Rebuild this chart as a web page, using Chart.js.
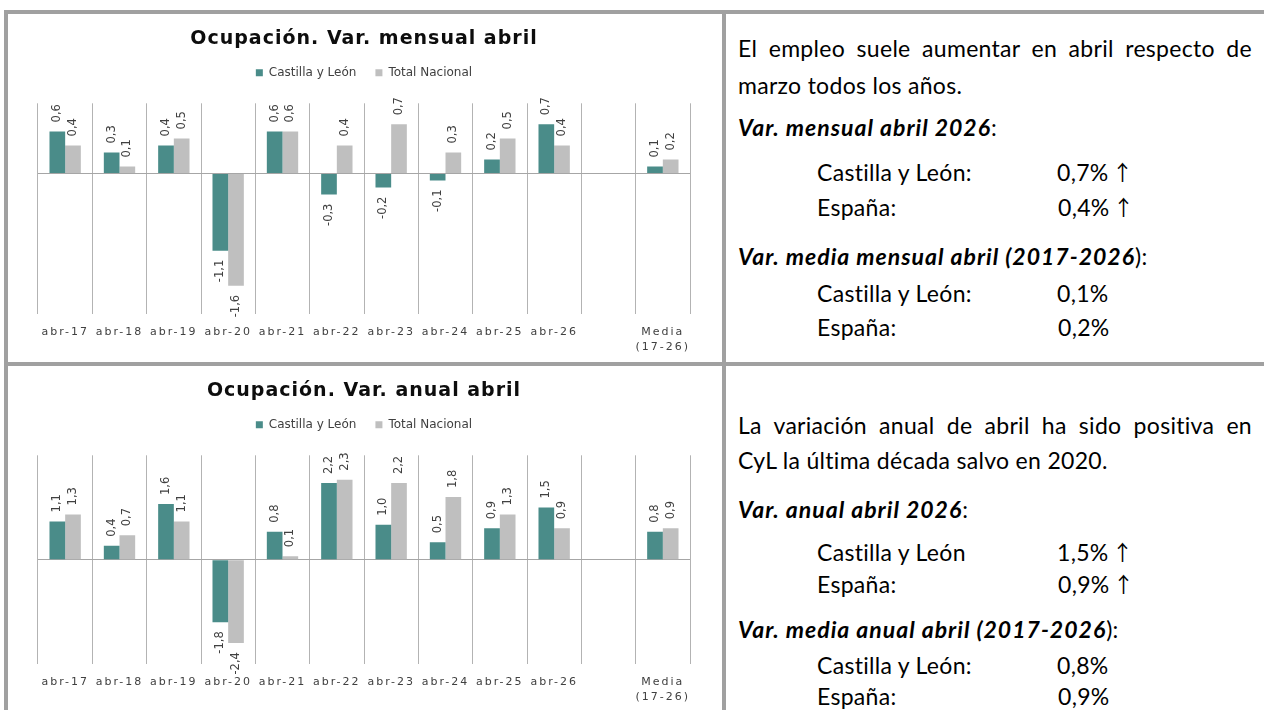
<!DOCTYPE html>
<html><head><meta charset="utf-8">
<script src="https://cdn.jsdelivr.net/npm/chart.js@4.4.1/dist/chart.umd.min.js"></script>
<style>
body{margin:0;width:1264px;height:710px;overflow:hidden;background:#fff;position:relative;font-family:Lato,sans-serif;}
.bd{position:absolute;background:#a0a0a0;z-index:5;}
.cw{position:absolute;left:8px;width:714px;height:352px;}
.t{position:absolute;font-size:23px;letter-spacing:0.3px;line-height:30px;height:30px;white-space:nowrap;color:#000;}
.t b{letter-spacing:1px;}
.j{text-align:justify;text-align-last:justify;white-space:normal;width:514px;}
.arr{position:absolute;font-family:"Noto Sans CJK JP";font-size:21px;line-height:30px;height:30px;width:20px;text-align:center;color:#000;}
</style></head>
<body>
<div class="cw" style="top:14px"><canvas id="c1" width="714" height="352"></canvas></div>
<div class="cw" style="top:366px"><canvas id="c2" width="714" height="352"></canvas></div>

<div class="t j" style="left:738px;top:33px">El empleo suele aumentar en abril respecto de</div>
<div class="t" style="left:738px;top:70px">marzo todos los años.</div>
<div class="t" style="left:738px;top:112px"><b><i>Var. mensual abril 2026</i></b>:</div>
<div class="t" style="left:817px;top:157px">Castilla y León:</div><div class="t" style="left:1057px;top:157px">0,7%</div><div class="arr" style="left:1112px;top:156px">↑</div>
<div class="t" style="left:817px;top:192px">España:</div><div class="t" style="left:1058px;top:192px">0,4%</div><div class="arr" style="left:1113px;top:191px">↑</div>
<div class="t" style="left:738px;top:241px"><b><i>Var. media mensual abril (2017-2026</i></b>):</div>
<div class="t" style="left:817px;top:278px">Castilla y León:</div><div class="t" style="left:1057px;top:278px">0,1%</div>
<div class="t" style="left:817px;top:312px">España:</div><div class="t" style="left:1058px;top:312px">0,2%</div>

<div class="t j" style="left:738px;top:410px">La variación anual de abril ha sido positiva en</div>
<div class="t" style="left:738px;top:445px">CyL la última década salvo en 2020.</div>
<div class="t" style="left:738px;top:494px"><b><i>Var. anual abril 2026</i></b>:</div>
<div class="t" style="left:817px;top:537px">Castilla y León</div><div class="t" style="left:1057px;top:537px">1,5%</div><div class="arr" style="left:1112px;top:536px">↑</div>
<div class="t" style="left:817px;top:569px">España:</div><div class="t" style="left:1058px;top:569px">0,9%</div><div class="arr" style="left:1113px;top:568px">↑</div>
<div class="t" style="left:738px;top:614px"><b><i>Var. media anual abril (2017-2026</i></b>):</div>
<div class="t" style="left:817px;top:650px">Castilla y León:</div><div class="t" style="left:1057px;top:650px">0,8%</div>
<div class="t" style="left:817px;top:681px">España:</div><div class="t" style="left:1058px;top:681px">0,9%</div>

<div class="bd" style="left:4px;top:10px;width:1260px;height:4px"></div>
<div class="bd" style="left:4px;top:10px;width:4px;height:700px"></div>
<div class="bd" style="left:722px;top:10px;width:4px;height:700px"></div>
<div class="bd" style="left:4px;top:362px;width:1260px;height:4px"></div>

<script>
// ---- data ----
const categories = ['abr-17','abr-18','abr-19','abr-20','abr-21','abr-22','abr-23','abr-24','abr-25','abr-26','',['Media','(17-26)']];
const seriesNames = ['Castilla y León','Total Nacional'];
const mensualCyL = [0.6, 0.3, 0.4, -1.1, 0.6, -0.3, -0.2, -0.1, 0.2, 0.7, null, 0.1];
const mensualNac = [0.4, 0.1, 0.5, -1.6, 0.6, 0.4, 0.7, 0.3, 0.5, 0.4, null, 0.2];
const anualCyL = [1.1, 0.4, 1.6, -1.8, 0.8, 2.2, 1.0, 0.5, 0.9, 1.5, null, 0.8];
const anualNac = [1.3, 0.7, 1.1, -2.4, 0.1, 2.3, 2.2, 1.8, 1.3, 0.9, null, 0.9];
const titleMensual = 'Ocupación. Var. mensual abril';
const titleAnual = 'Ocupación. Var. anual abril';
const rangeMensual = [-2, 1];
const rangeAnual = [-3, 3];

const TEAL = '#4A8C89', GREY = '#BFBFBF';
const fmt = v => v.toFixed(1).replace('.', ',');

const spacingPlugin = {
  id: 'spacing',
  beforeInit(chart) {
    const ctx = chart.ctx;
    const orig = ctx.fillText;
    ctx.fillText = function(t, x, y, w) {
      const f = ctx.font;
      if ('letterSpacing' in ctx) {
        ctx.letterSpacing = /bold/.test(f) ? '1px' : (/(^|\s)11px/.test(f) ? '2px' : '0px');
      }
      if (w === undefined) return orig.call(ctx, t, x, y);
      return orig.call(ctx, t, x, y, w);
    };
  }
};

const rotLabels = {
  id: 'rotLabels',
  afterDatasetsDraw(chart) {
    const ctx = chart.ctx;
    ctx.save();
    ctx.font = '11.5px "DejaVu Sans"';
    ctx.fillStyle = '#404040';
    chart.data.datasets.forEach((ds, di) => {
      const meta = chart.getDatasetMeta(di);
      meta.data.forEach((bar, i) => {
        const v = ds.data[i];
        if (v === null || v === undefined) return;
        ctx.save();
        ctx.translate(bar.x, v >= 0 ? bar.y - 9 : bar.y + 9);
        ctx.rotate(-Math.PI / 2);
        ctx.textAlign = v >= 0 ? 'left' : 'right';
        ctx.textBaseline = 'middle';
        ctx.fillText(fmt(v), 0, 0);
        ctx.restore();
      });
    });
    ctx.restore();
  }
};

function makeChart(id, title, cyl, nac, range, padBottom) {
  return new Chart(document.getElementById(id), {
    type: 'bar',
    data: {
      labels: categories,
      datasets: [
        {label: seriesNames[0], data: cyl, backgroundColor: TEAL, borderWidth: 0, categoryPercentage: 0.577, barPercentage: 1},
        {label: seriesNames[1], data: nac, backgroundColor: GREY, borderWidth: 0, categoryPercentage: 0.577, barPercentage: 1}
      ]
    },
    options: {
      responsive: false,
      animation: false,
      events: [],
      layout: {padding: {left: 30, right: 32, top: 0, bottom: padBottom}},
      plugins: {
        tooltip: {enabled: false},
        title: {display: true, text: title, color: '#0d0d0d',
          font: {family: 'DejaVu Sans', size: 19, weight: 'bold', lineHeight: 1},
          padding: {top: 15.8, bottom: -1}},
        legend: {display: true, position: 'top', weight: 1800,
          labels: {boxWidth: 7, boxHeight: 7, padding: 19, color: '#404040',
            font: {family: 'DejaVu Sans', size: 12}}},
        subtitle: {display: true, text: '', padding: 0, font: {size: 14.5, lineHeight: 1}}
      },
      scales: {
        x: {
          grid: {display: true, offset: true, color: '#B3B3B3', lineWidth: 1, drawTicks: false},
          border: {display: false},
          ticks: {color: '#404040', font: {family: 'DejaVu Sans', size: 11, lineHeight: 1.32},
            padding: 11, autoSkip: false, maxRotation: 0, minRotation: 0}
        },
        y: {
          min: range[0], max: range[1],
          ticks: {display: false, stepSize: 1},
          grid: {drawTicks: false, lineWidth: 1,
            color: c => (c.tick && c.tick.value === 0) ? '#A6A6A6' : 'rgba(0,0,0,0)'},
          border: {display: false}
        }
      }
    },
    plugins: [spacingPlugin, rotLabels]
  });
}

makeChart('c1', titleMensual, mensualCyL, mensualNac, rangeMensual, 1);
makeChart('c2', titleAnual, anualCyL, anualNac, rangeAnual, 3);
</script>
</body></html>
